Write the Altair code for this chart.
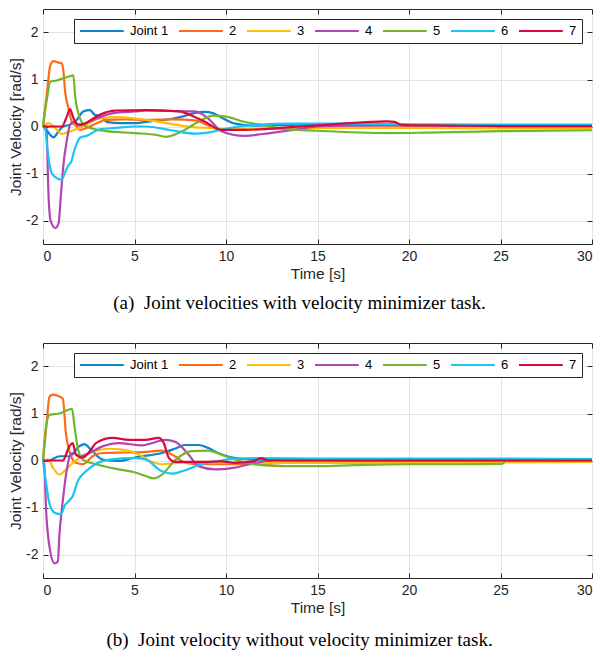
import altair as alt
import pandas as pd

labels = ["Joint 1", "2", "3", "4", "5", "6", "7"]
colors = ["#0a84cc", "#ff6a17", "#ffbd0a", "#b046b4", "#73b62d", "#17c4f2", "#d9093e"]
x_ticks = [0, 5, 10, 15, 20, 25, 30]
y_ticks = [-2, -1, 0, 1, 2]

# ---------- (a) with velocity minimizer task ----------
a1_t = [0, 0.2, 0.4, 0.58, 0.85, 1.1, 1.48, 1.84, 2.2, 2.56, 2.83, 3.2, 3.47, 4.2, 5.0, 6.0, 7.0, 7.6, 8.2, 8.85, 9.3, 9.8, 10.5, 11.5, 13, 15, 18, 20, 25, 30]
a1_v = [0, -0.08, -0.18, -0.23, -0.1, 0.0, 0.04, 0.14, 0.32, 0.35, 0.25, 0.21, 0.1, 0.07, 0.07, 0.12, 0.16, 0.21, 0.28, 0.31, 0.28, 0.18, 0.06, 0.02, 0.03, 0.05, 0.04, 0.03, 0.03, 0.03]
a2_t = [0, 0.22, 0.4, 0.58, 0.85, 1.03, 1.12, 1.21, 1.39, 1.57, 1.84, 2.02, 2.38, 2.93, 3.47, 4.5, 5.6, 7.0, 8.3, 9.0, 9.75, 11, 13, 15, 20, 25, 30]
a2_v = [0, 0.74, 1.3, 1.39, 1.36, 1.34, 1.16, 0.74, 0.39, 0.11, 0.0, -0.07, -0.03, 0.07, 0.14, 0.15, 0.14, 0.15, 0.13, 0.03, -0.07, -0.06, -0.04, -0.03, -0.02, -0.02, -0.02]
a3_t = [0, 0.3, 0.6, 1.03, 1.5, 2.2, 3.1, 4.0, 5.0, 6.0, 7.2, 8.3, 9.0, 10, 12, 15, 20, 25, 30]
a3_v = [0, 0.07, 0.0, -0.16, -0.1, 0.0, 0.17, 0.2, 0.17, 0.12, 0.04, -0.02, -0.03, -0.05, -0.05, -0.03, -0.03, -0.04, -0.04]
a4_t = [0, 0.18, 0.3, 0.4, 0.67, 0.85, 0.97, 1.12, 1.3, 1.48, 1.66, 2.0, 2.5, 3.0, 3.47, 4.15, 5.0, 5.6, 7.0, 8.3, 9.0, 9.75, 11.0, 12.0, 13.7, 15, 17, 20, 25, 30]
a4_v = [0, 0.0, -1.44, -1.98, -2.16, -2.06, -1.5, -0.8, -0.3, 0.04, 0.1, 0.02, 0.1, 0.18, 0.25, 0.3, 0.32, 0.34, 0.33, 0.32, 0.18, -0.1, -0.2, -0.16, -0.07, 0.0, 0.02, 0.03, 0.03, 0.02]
a5_t = [0, 0.22, 0.4, 0.76, 1.12, 1.57, 1.66, 1.75, 1.93, 2.1, 2.38, 3.47, 5.0, 6.2, 6.7, 7.5, 8.5, 9.3, 10.0, 11, 12, 13.2, 15, 19, 21, 25, 30]
a5_v = [0, 0.6, 0.95, 0.98, 1.03, 1.08, 1.09, 0.67, 0.28, 0.1, 0.0, -0.1, -0.14, -0.18, -0.22, -0.12, 0.1, 0.23, 0.21, 0.1, 0.03, -0.05, -0.09, -0.14, -0.13, -0.1, -0.08]
a6_t = [0, 0.12, 0.22, 0.3, 0.49, 0.76, 1.03, 1.21, 1.39, 1.57, 1.66, 1.84, 2.02, 2.38, 3.1, 4.0, 5.0, 5.6, 7.0, 8.3, 9.0, 9.75, 10.5, 11.6, 13.7, 16, 19.5, 25, 30]
a6_v = [0, -0.04, -0.4, -0.67, -1.0, -1.1, -1.13, -0.97, -0.83, -0.72, -0.58, -0.37, -0.24, -0.2, -0.06, -0.03, 0.0, 0.0, -0.08, -0.15, -0.13, -0.07, -0.01, 0.035, 0.06, 0.06, 0.05, 0.04, 0.04]
a7_t = [0, 1.03, 1.3, 1.48, 1.66, 1.93, 2.2, 2.74, 3.1, 4.0, 5.6, 7.4, 8.2, 8.85, 9.75, 11, 13.7, 16, 18.8, 19.2, 19.6, 22, 25, 30]
a7_v = [0, 0, 0.21, 0.37, 0.18, 0.04, 0.05, 0.17, 0.25, 0.34, 0.35, 0.32, 0.22, 0.1, -0.07, -0.07, -0.01, 0.05, 0.11, 0.1, 0.03, 0.02, 0.01, 0.01]

# ---------- (b) without velocity minimizer task ----------
b1_t = [0, 0.3, 0.9, 1.44, 1.98, 2.26, 2.62, 3.25, 4.15, 5.06, 6.5, 7.2, 7.77, 8.5, 9.0, 9.57, 10.5, 11.5, 13, 15, 20, 25, 30]
b1_v = [0, 0, 0.09, 0.09, 0.3, 0.35, 0.23, 0.02, -0.01, 0.07, 0.16, 0.25, 0.33, 0.33, 0.27, 0.16, 0.05, 0.02, 0.02, 0.02, 0.02, 0.02, 0.02]
b2_t = [0, 0.2, 0.36, 0.54, 0.9, 1.08, 1.26, 1.44, 1.8, 2.17, 2.71, 3.25, 4.5, 5.5, 6.5, 7.2, 7.8, 8.7, 10, 12, 14, 20, 25, 30]
b2_v = [0, 0.8, 1.36, 1.4, 1.36, 1.32, 0.55, 0.2, -0.05, -0.08, 0.09, 0.16, 0.17, 0.18, 0.21, 0.09, -0.05, -0.08, -0.08, -0.07, -0.04, -0.03, -0.03, -0.03]
b3_t = [0, 0.3, 0.54, 0.9, 1.26, 1.62, 2.17, 2.89, 3.61, 4.33, 5.24, 5.96, 6.5, 7.4, 8.67, 10, 12, 15, 20, 25, 30]
b3_v = [0, 0.02, -0.15, -0.3, -0.19, -0.05, 0.09, 0.21, 0.25, 0.23, 0.13, -0.03, -0.08, -0.05, -0.03, -0.04, -0.05, -0.05, -0.05, -0.04, -0.03]
b4_t = [0, 0.05, 0.18, 0.36, 0.63, 0.81, 0.9, 1.08, 1.26, 1.44, 1.62, 1.98, 2.53, 3.25, 4.15, 5.42, 5.96, 6.68, 7.22, 7.95, 8.5, 9.4, 10.5, 11.5, 12.5, 15, 20, 25, 30]
b4_v = [0, 0, -1.14, -1.85, -2.19, -2.15, -1.57, -0.86, -0.3, 0.06, 0.16, 0.09, 0.16, 0.3, 0.37, 0.32, 0.37, 0.44, 0.4, 0.13, -0.12, -0.19, -0.15, -0.06, 0.0, 0.01, 0.01, 0.01, 0.01]
b5_t = [0, 0.18, 0.36, 0.9, 1.59, 1.71, 1.9, 2.17, 2.9, 4.15, 5.0, 5.6, 6.05, 6.5, 7.2, 8.1, 9.0, 9.9, 10.5, 11.5, 13, 15, 17, 20, 23, 25.1, 25.3, 30]
b5_v = [0, 0.76, 0.97, 1.0, 1.1, 0.76, 0.27, 0.02, -0.08, -0.19, -0.25, -0.33, -0.38, -0.3, 0.0, 0.2, 0.21, 0.1, 0.02, -0.08, -0.12, -0.12, -0.1, -0.08, -0.08, -0.07, 0.0, 0.0]
b6_t = [0, 0.18, 0.36, 0.63, 0.99, 1.17, 1.44, 1.62, 1.9, 2.35, 2.89, 3.61, 5.06, 5.6, 6.5, 7.05, 7.6, 8.67, 9.76, 10.5, 12, 15, 20, 25, 30]
b6_v = [0, -0.51, -0.93, -1.11, -1.14, -0.97, -0.85, -0.76, -0.44, -0.23, -0.07, 0.02, 0.05, 0.02, -0.23, -0.28, -0.23, -0.08, 0.0, 0.04, 0.05, 0.04, 0.04, 0.04, 0.03]
b7_t = [0, 1.08, 1.44, 1.62, 1.8, 2.17, 2.62, 2.89, 3.8, 4.7, 5.6, 6.32, 6.6, 6.87, 7.22, 8.67, 9.76, 10.5, 11.5, 11.9, 12.3, 14, 20, 25, 30]
b7_v = [0, 0, 0.3, 0.37, 0.13, 0.06, 0.23, 0.37, 0.48, 0.44, 0.44, 0.48, 0.37, 0.06, -0.03, -0.03, -0.02, -0.05, -0.02, 0.05, 0.0, 0.0, 0.0, 0.0, 0.0]

caption_a = "(a)\u00a0 Joint velocities with velocity minimizer task."
caption_b = "(b)\u00a0 Joint velocity without velocity minimizer task."


def frame(series):
    rows = []
    for name, (ts, vs) in zip(labels, series):
        for t, v in zip(ts, vs):
            rows.append({"t": t, "v": v, "joint": name})
    return pd.DataFrame(rows)


df_a = frame([(a1_t, a1_v), (a2_t, a2_v), (a3_t, a3_v), (a4_t, a4_v), (a5_t, a5_v), (a6_t, a6_v), (a7_t, a7_v)])
df_b = frame([(b1_t, b1_v), (b2_t, b2_v), (b3_t, b3_v), (b4_t, b4_v), (b5_t, b5_v), (b6_t, b6_v), (b7_t, b7_v)])

SANS = "Liberation Sans"
AX = "#262626"
x_scale = alt.Scale(domain=[0, 30], nice=False, zero=False)
y_scale = alt.Scale(domain=[-2.5, 2.5], nice=False, zero=False)


def tick_axis(orient, vals):
    return alt.Axis(orient=orient, values=vals, offset=-5, labels=False, grid=False,
                    domain=False, ticks=True, tickSize=5, tickColor=AX, tickWidth=1,
                    title=None)


def panel(df, caption, cap_offset):
    base = alt.Chart(df)
    lines = base.mark_line(strokeWidth=2.2, strokeJoin="round", interpolate="monotone").encode(
        x=alt.X("t:Q", scale=x_scale,
                axis=alt.Axis(orient="bottom", values=x_ticks, grid=True, ticks=False, domain=False,
                              labelPadding=5, title="Time [s]", titlePadding=3)),
        y=alt.Y("v:Q", scale=y_scale,
                axis=alt.Axis(orient="left", values=y_ticks, grid=True, ticks=False, domain=False,
                              labelPadding=5, labelExpr="datum.value + ''",
                              title="Joint Velocity [rad/s]", titlePadding=2)),
        color=alt.Color("joint:N", sort=labels,
                        scale=alt.Scale(domain=labels, range=colors),
                        legend=alt.Legend(orient="none", legendX=31, legendY=10, direction="horizontal",
                                          title=None, symbolType="M-1,0H6.3", symbolSize=144,
                                          symbolStrokeWidth=2, labelFont=SANS, labelFontSize=13,
                                          labelColor="black", labelOffset=37, columnPadding=6,
                                          padding=5, fillColor="white", strokeColor=AX,
                                          cornerRadius=0)),
    )
    t1 = base.mark_point(opacity=0).encode(
        x=alt.X("t:Q", scale=x_scale, axis=tick_axis("bottom", x_ticks)),
        y=alt.Y("v:Q", scale=y_scale, axis=tick_axis("left", y_ticks)),
    )
    t2 = base.mark_point(opacity=0).encode(
        x=alt.X("t:Q", scale=x_scale, axis=tick_axis("top", x_ticks)),
        y=alt.Y("v:Q", scale=y_scale, axis=tick_axis("right", y_ticks)),
    )
    return alt.layer(lines, t1, t2).resolve_axis(x="independent", y="independent").properties(
        width=549, height=235,
        title=alt.TitleParams(text=caption, orient="bottom", anchor="middle", font="Liberation Serif",
                              fontSize=19, fontWeight="normal", color="black", offset=cap_offset, dx=-18),
    )


chart = alt.vconcat(panel(df_a, caption_a, 12), panel(df_b, caption_b, 15), spacing=29).resolve_scale(
    color="independent").resolve_legend(color="independent").properties(
    padding={"left": 0, "top": 0, "right": 0, "bottom": 0}
).configure_view(stroke=AX, strokeWidth=1).configure_axis(
    labelFont=SANS, labelFontSize=14, labelColor=AX, titleFont=SANS, titleFontSize=15.5,
    titleFontWeight="normal", titleColor=AX, gridColor="#e3e3e3", gridWidth=1
)

chart.save("out.html", embed_options={"renderer": "svg", "actions": False})
